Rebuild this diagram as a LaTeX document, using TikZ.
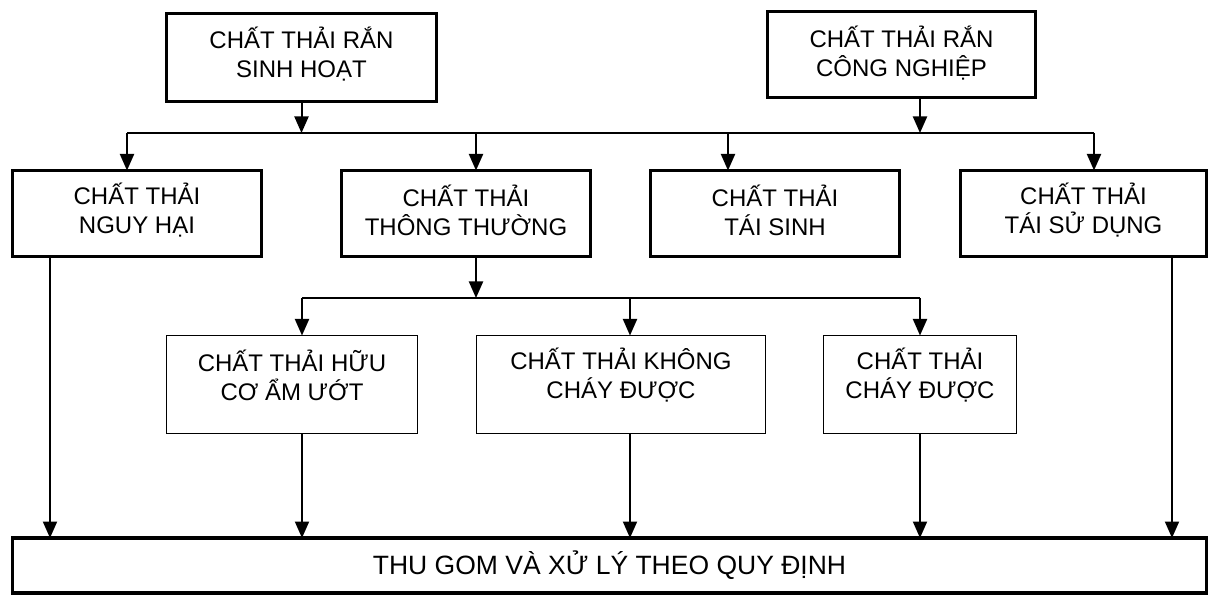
\documentclass[tikz,border=0pt]{standalone}
\usepackage{fontspec}
\setmainfont{Liberation Sans}
\usetikzlibrary{arrows.meta}
\begin{document}
\begin{tikzpicture}[x=1pt,y=-1pt,
  box/.style={draw, inner sep=0pt, outer sep=0pt, fill=white},
  heavy/.style={box, line width=3.5pt},
  light/.style={box, line width=1.3pt},
  txt/.style={align=center, inner sep=0pt, font=\fontsize{24}{29}\selectfont},
  bigtxt/.style={align=center, inner sep=0pt, font=\fontsize{26.5}{31}\selectfont},
  conn/.style={line width=2pt},
  arr/.style={conn, -{Triangle[width=14pt,length=16.5pt]}}]
\useasboundingbox (0,0) rectangle (1211,596);

% sources
\node[heavy, minimum width=270pt, minimum height=88pt] (A) at (301.5,57.5) {};
\node[heavy, minimum width=268pt, minimum height=86pt] (B) at (901.5,54.5) {};
% categories
\node[heavy, minimum width=249pt, minimum height=86pt] (C) at (137,213.5) {};
\node[heavy, minimum width=249pt, minimum height=86pt] (D) at (466,213.5) {};
\node[heavy, minimum width=249pt, minimum height=86pt] (E) at (775,213.5) {};
\node[heavy, minimum width=246pt, minimum height=86pt] (F) at (1083.5,213.5) {};
% ordinary waste subdivisions
\node[light, minimum width=251pt, minimum height=98pt] (G) at (292,384.5) {};
\node[light, minimum width=289pt, minimum height=98pt] (H) at (621,384.5) {};
\node[light, minimum width=193pt, minimum height=98pt] (I) at (920,384.5) {};
% final treatment
\node[heavy, minimum width=1194pt, minimum height=55pt] (J) at (609.5,565.5) {};

% labels
\node[txt] (At) at ([yshift=3pt]A.center) {CHẤT THẢI RẮN\\SINH HOẠT};
\node[txt] (Bt) at ([yshift=1pt]B.center) {CHẤT THẢI RẮN\\CÔNG NGHIỆP};
\node[txt] (Ct) at ([yshift=3pt]C.center) {CHẤT THẢI\\NGUY HẠI};
\node[txt] (Dt) at ([yshift=3pt]D.center) {CHẤT THẢI\\THÔNG THƯỜNG};
\node[txt] (Et) at ([yshift=3pt]E.center) {CHẤT THẢI\\TÁI SINH};
\node[txt] (Ft) at ([yshift=3pt]F.center) {CHẤT THẢI\\TÁI SỬ DỤNG};
\node[txt] (Gt) at ([yshift=9pt]G.center) {CHẤT THẢI HỮU\\CƠ ẨM ƯỚT};
\node[txt] (Ht) at ([yshift=9pt]H.center) {CHẤT THẢI KHÔNG\\CHÁY ĐƯỢC};
\node[txt] (It) at ([yshift=9pt]I.center) {CHẤT THẢI\\CHÁY ĐƯỢC};
\node[bigtxt] (Jt) at (J.center) {THU GOM VÀ XỬ LÝ THEO QUY ĐỊNH};

% first distribution line
\coordinate (dc) at (127,133);
\coordinate (dd) at (476,133);
\coordinate (de) at (728,133);
\coordinate (df) at (1094,133);
\coordinate (db) at (920,133);
\draw[conn] (dc) -- (df);
\draw[arr] (A.south) -- (A.south |- dc);
\draw[arr] (db |- B.south) -- (db);
\draw[arr] (dc) -- (dc |- C.north);
\draw[arr] (dd) -- (dd |- D.north);
\draw[arr] (de) -- (de |- E.north);
\draw[arr] (df) -- (df |- F.north);

% second distribution line
\coordinate (dg) at (302,298);
\coordinate (dh) at (630,298);
\coordinate (di) at (920,298);
\draw[conn] (dg) -- (di);
\draw[arr] (dd |- D.south) -- (dd |- dg);
\draw[arr] (dg) -- (dg |- G.north);
\draw[arr] (dh) -- (dh |- H.north);
\draw[arr] (di) -- (di |- I.north);

% into collection and treatment
\coordinate (xc) at (50,537);
\coordinate (xf) at (1172,537);
\draw[arr] (xc |- C.south) -- (xc |- J.north);
\draw[arr] (dg |- G.south) -- (dg |- J.north);
\draw[arr] (dh |- H.south) -- (dh |- J.north);
\draw[arr] (di |- I.south) -- (di |- J.north);
\draw[arr] (xf |- F.south) -- (xf |- J.north);
\end{tikzpicture}
\end{document}
